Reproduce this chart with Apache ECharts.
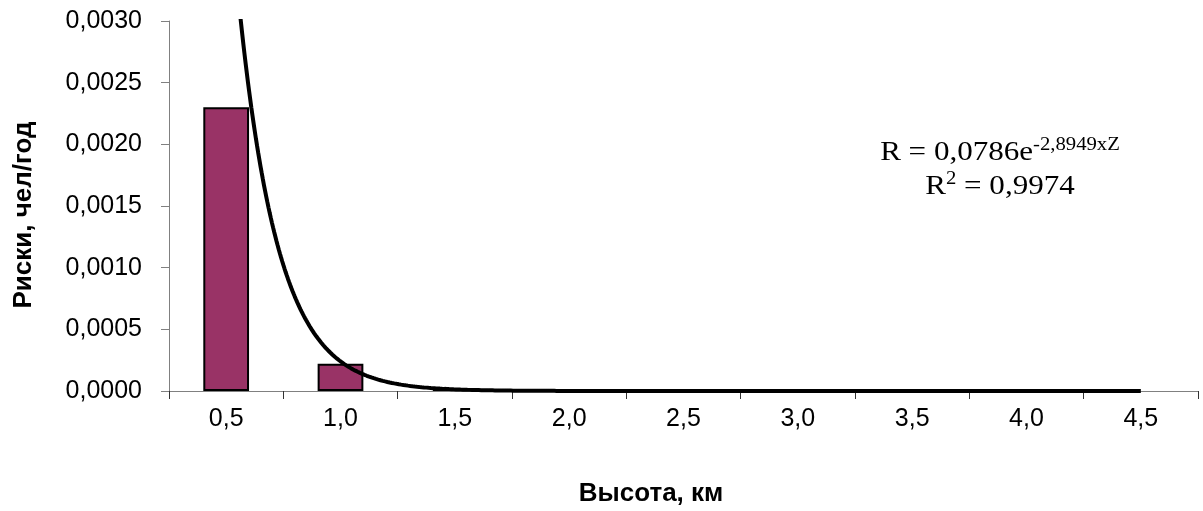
<!DOCTYPE html>
<html>
<head>
<meta charset="utf-8">
<script src="https://cdn.jsdelivr.net/npm/echarts@6/dist/echarts.min.js"></script>
<style>
  html, body { margin: 0; padding: 0; background: #fff; }
  #chart { width: 1203px; height: 511px; }
</style>
</head>
<body>
<div id="chart"></div>
<script>
// Heights (km) along the category axis
const heights = ['0,5', '1,0', '1,5', '2,0', '2,5', '3,0', '3,5', '4,0', '4,5'];
// Risk per height, persons per year (no bar drawn where null)
const risks = [0.0023, 0.00022, 0.000015, 0.0000008, 0.00000005, 0.000000003, null, null, null];
// Exponential trend: R = A * exp(B * Z), Z = category index 1..9
const trendA = 0.0786;
const trendB = -2.8949;
const trendR2 = '0,9974';
// Risk axis ticks
const yTicks = [0, 0.0005, 0.0010, 0.0015, 0.0020, 0.0025, 0.0030];

const trendPoints = [];
for (let i = 100; i <= heights.length * 100; i++) {
  const z = i / 100;
  trendPoints.push([z, trendA * Math.exp(trendB * z)]);
}

const fmt = v => v.toFixed(4).replace('.', ',');
const sans = "'Liberation Sans', Arial, sans-serif";
const serif = "'Liberation Serif', 'Times New Roman', serif";

const chart = echarts.init(document.getElementById('chart'), null, { renderer: 'canvas' });
chart.setOption({
  animation: false,
  backgroundColor: '#ffffff',
  grid: { left: 169, right: 5, top: 21, bottom: 120, containLabel: false },
  xAxis: [
    {
      type: 'category',
      data: heights,
      boundaryGap: true,
      axisLine: { show: true, lineStyle: { color: '#808080', width: 1 } },
      axisTick: { show: true, alignWithLabel: false, length: 8, inside: false, lineStyle: { color: '#333', width: 1 } },
      axisLabel: { color: '#000', fontFamily: sans, fontSize: 25, margin: 16 },
      splitLine: { show: false }
    },
    {
      type: 'value',
      min: 0.5,
      max: heights.length + 0.5,
      show: false,
      splitLine: { show: false }
    }
  ],
  yAxis: {
    type: 'value',
    min: yTicks[0],
    max: yTicks[yTicks.length - 1],
    interval: 0.0005,
    axisLine: { show: true, lineStyle: { color: '#808080', width: 1 } },
    axisTick: { show: true, length: 8, lineStyle: { color: '#808080', width: 1 } },
    axisLabel: { color: '#000', fontFamily: sans, fontSize: 25, margin: 27, formatter: fmt },
    splitLine: { show: false }
  },
  series: [
    {
      type: 'bar',
      xAxisIndex: 0,
      data: risks,
      barWidth: '40%',
      itemStyle: { color: '#993366', borderColor: '#000', borderWidth: 2 }
    },
    {
      type: 'line',
      xAxisIndex: 1,
      data: trendPoints,
      showSymbol: false,
      symbol: 'none',
      clip: true,
      lineStyle: { color: '#000', width: 4 },
      z: 5
    }
  ],
  graphic: [
    {
      type: 'text',
      x: 1000,
      y: 136,
      scaleX: 1.15,
      style: {
        text: '{m|R = ' + String(trendA).replace('.', ',') + 'e}{s|' + String(trendB).replace('.', ',') + 'xZ}\n{m|R}{s2|2}{m| = ' + trendR2 + '}',
        align: 'center',
        verticalAlign: 'top',
        fill: '#000',
        rich: {
          m: { fontFamily: serif, fontSize: 27, lineHeight: 34, color: '#000' },
          s: { fontFamily: serif, fontSize: 18, lineHeight: 20, verticalAlign: 'top', color: '#000' },
          s2: { fontFamily: serif, fontSize: 18, lineHeight: 16, verticalAlign: 'top', color: '#000' }
        }
      }
    },
    {
      type: 'text',
      x: 651,
      y: 494,
      style: {
        text: 'Высота, км',
        font: "bold 26px 'Liberation Sans', Arial, sans-serif",
        align: 'center',
        verticalAlign: 'middle',
        fill: '#000'
      }
    },
    {
      type: 'text',
      x: 24,
      y: 215,
      rotation: Math.PI / 2,
      style: {
        text: 'Риски, чел/год',
        font: "bold 26px 'Liberation Sans', Arial, sans-serif",
        align: 'center',
        verticalAlign: 'middle',
        fill: '#000'
      }
    }
  ]
});
</script>
</body>
</html>
